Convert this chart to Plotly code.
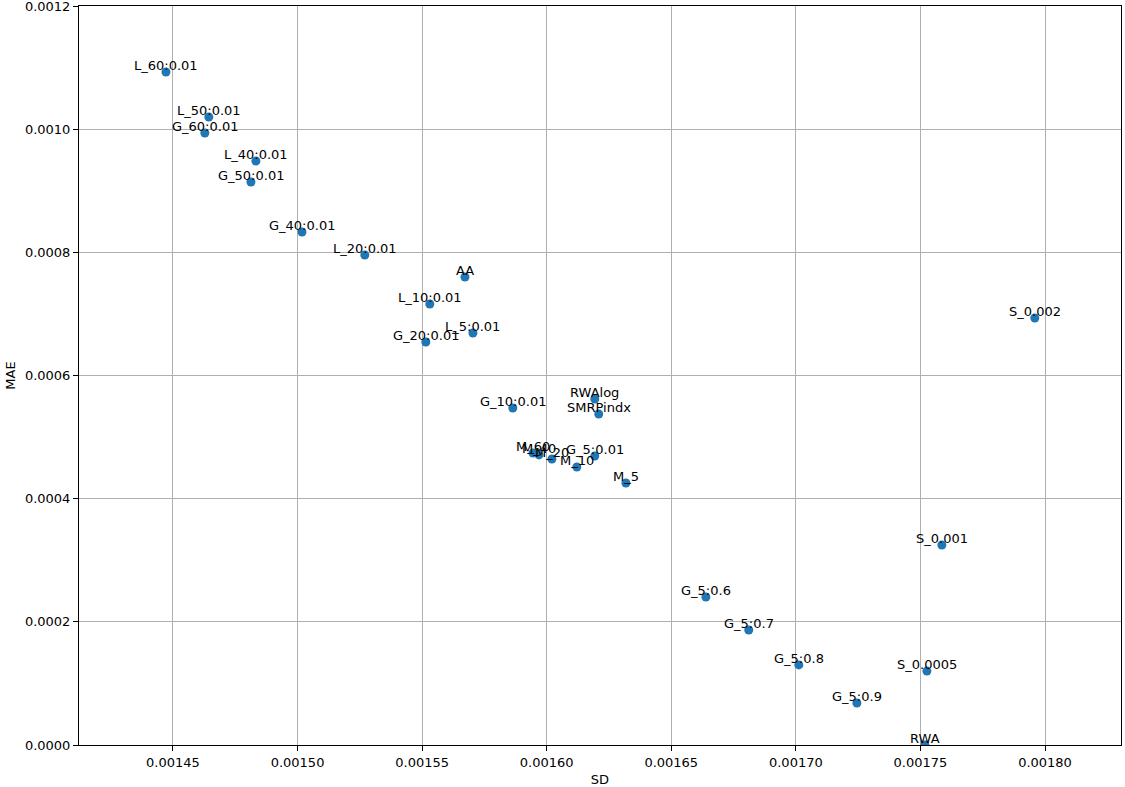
import plotly.graph_objects as go

labels = ["L_60:0.01", "L_50:0.01", "G_60:0.01", "L_40:0.01", "G_50:0.01",
          "G_40:0.01", "L_20:0.01", "AA", "L_10:0.01", "L_5:0.01", "G_20:0.01",
          "G_10:0.01", "RWAlog", "SMRPindx", "M_60", "M_40", "M_20", "M_10",
          "G_5:0.01", "M_5", "G_5:0.6", "G_5:0.7", "G_5:0.8", "G_5:0.9",
          "RWA", "S_0.0005", "S_0.001", "S_0.002"]
sd = [0.0014472, 0.0014644, 0.0014628, 0.0014833, 0.0014813,
      0.0015018, 0.0015270, 0.0015672, 0.0015531, 0.0015704, 0.0015515,
      0.0015864, 0.0016193, 0.0016209, 0.0015945, 0.0015969, 0.0016021, 0.0016121,
      0.0016193, 0.0016318, 0.0016639, 0.0016811, 0.0017012, 0.0017245,
      0.0017518, 0.0017526, 0.0017586, 0.0017959]
mae = [0.0010928, 0.0010198, 0.0009938, 0.0009483, 0.0009142,
       0.0008330, 0.0007957, 0.0007600, 0.0007161, 0.0006690, 0.0006544,
       0.0005472, 0.0005618, 0.0005375, 0.0004740, 0.0004710, 0.0004644, 0.0004514,
       0.0004693, 0.0004254, 0.0002403, 0.0001867, 0.0001300, 0.0000682,
       0.0000000, 0.0001200, 0.0003248, 0.0006934]
x_ticks = [0.00145, 0.00150, 0.00155, 0.00160, 0.00165, 0.00170, 0.00175, 0.00180]
x_tick_text = ["0.00145", "0.00150", "0.00155", "0.00160", "0.00165", "0.00170", "0.00175", "0.00180"]
y_ticks = [0.0, 0.0002, 0.0004, 0.0006, 0.0008, 0.0010, 0.0012]
y_tick_text = ["0.0000", "0.0002", "0.0004", "0.0006", "0.0008", "0.0010", "0.0012"]

FONT = "DejaVu Sans"
fig = go.Figure()
fig.add_trace(go.Scatter(x=sd, y=mae, mode="markers",
                         marker=dict(color="#1f77b4", size=9),
                         hoverinfo="skip", showlegend=False, cliponaxis=True))
for lab, xv, yv in zip(labels, sd, mae):
    fig.add_annotation(x=xv, y=yv, text=lab, showarrow=False,
                       xanchor="center", yanchor="bottom", yshift=-3,
                       font=dict(family=FONT, size=13, color="black"))

axis_common = dict(showline=True, linecolor="black", linewidth=1, mirror=True,
                   ticks="outside", ticklen=5, tickcolor="black",
                   showgrid=True, gridcolor="#b0b0b0", gridwidth=1,
                   zeroline=False, automargin=False, tickmode="array",
                   ticklabeloverflow="allow",
                   tickfont=dict(family=FONT, size=13, color="black"))
fig.update_xaxes(range=[0.0014123, 0.0018305], tickvals=x_ticks, ticktext=x_tick_text,
                 title=dict(text="SD", font=dict(family=FONT, size=13, color="black"), standoff=6),
                 **axis_common)
fig.update_yaxes(range=[0, 0.0012], tickvals=y_ticks, ticktext=y_tick_text,
                 title=dict(text="MAE", font=dict(family=FONT, size=13, color="black"), standoff=6),
                 **axis_common)
fig.update_layout(width=1125, height=787, plot_bgcolor="white", paper_bgcolor="white",
                  margin=dict(l=79, r=4, t=6, b=42),
                  font=dict(family=FONT, size=13, color="black"))
fig.write_html("out.html", config={"displayModeBar": False},
               post_script="document.body.style.margin='0';document.body.style.overflow='hidden';")
